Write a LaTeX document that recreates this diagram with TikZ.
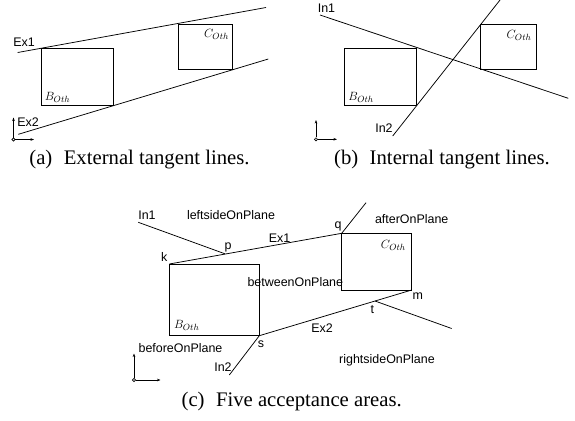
\documentclass[tikz,border=0pt]{standalone}
\usepackage{fontspec}
\setmainfont{Liberation Serif}
\setsansfont{Liberation Sans}
\usetikzlibrary{arrows.meta}
\begin{document}
\begin{tikzpicture}[x=1bp,y=-1bp,line width=0.75bp,
  lbl/.style={font=\sffamily\fontsize{12.5}{14}\selectfont,inner sep=0pt},
  mlbl/.style={font=\fontsize{13}{15}\selectfont,inner sep=0pt},
  captext/.style={font=\rmfamily\fontsize{20.8}{25}\selectfont,inner sep=0pt},
  axis/.style={line width=0.6bp,-{Stealth[length=3.5bp,width=2.6bp]}},
  orig/.style={circle,draw,line width=0.6bp,inner sep=0pt,minimum size=3.2bp}]
\useasboundingbox (0,0) rectangle (575,420);

% ---------------- (a) external tangent lines ----------------
\coordinate (aBnw) at (41.7,48.3);  \coordinate (aBse) at (113.3,105);
\coordinate (aCnw) at (178.3,24);   \coordinate (aCse) at (232.7,69);
\draw (aBnw) rectangle (aBse);
\draw (aCnw) rectangle (aCse);
\coordinate (aEx1s) at (17.7,52.5);  \coordinate (aEx1e) at (266,7.5);
\coordinate (aEx2s) at (18.3,134.3); \coordinate (aEx2e) at (268.3,59);
\draw (aEx1s) -- (aEx1e);
\draw (aEx2s) -- (aEx2e);
\node[lbl] (aEx1) at (24,42) {Ex1};
\node[lbl] (aEx2) at (28,121.7) {Ex2};
\node[mlbl] (aB) at (57.5,97.7) {$B_{Oth}$};
\node[mlbl] (aC) at (216.5,34) {$C_{Oth}$};
\node[orig] (ao) at (13.5,139.5) {};
\coordinate (aoy) at (13.5,117.5); \coordinate (aox) at (34,139.5);
\draw[axis] (ao) -- (aoy);
\draw[axis] (ao) -- (aox);
\node[captext] (capa) at (139.5,160) {(a)\hspace{0.55em}External tangent lines.};

% ---------------- (b) internal tangent lines ----------------
\coordinate (bBnw) at (344.3,48.3); \coordinate (bBse) at (416,105);
\coordinate (bCnw) at (480.7,24.3); \coordinate (bCse) at (536.7,69);
\draw (bBnw) rectangle (bBse);
\draw (bCnw) rectangle (bCse);
\coordinate (bIn1s) at (320,15);     \coordinate (bIn1e) at (568.3,98.3);
\coordinate (bIn2s) at (392.7,136);  \coordinate (bIn2e) at (500,0);
\draw (bIn1s) -- (bIn1e);
\draw (bIn2s) -- (bIn2e);
\node[lbl] (bIn1) at (326.5,8.5) {In1};
\node[lbl] (bIn2) at (384,128) {In2};
\node[mlbl] (bB) at (361,97) {$B_{Oth}$};
\node[mlbl] (bC) at (519,35) {$C_{Oth}$};
\node[orig] (bo) at (316,139.3) {};
\coordinate (boy) at (316,120); \coordinate (bax) at (337,139.3);
\draw[axis] (bo) -- (boy);
\draw[axis] (bo) -- (bax);
\node[captext] (capb) at (442,160) {(b)\hspace{0.55em}Internal tangent lines.};

% ---------------- (c) five acceptance areas ----------------
\coordinate (k) at (169.3,264);   \coordinate (cBse) at (259.3,335.7);
\coordinate (q) at (341.7,233.3); \coordinate (cCse) at (411.7,290);
\coordinate (s) at (259.3,335.7); \coordinate (m) at (411.7,290);
\coordinate (p) at (225,253.8);   \coordinate (t) at (375,301);
\draw (k) rectangle (cBse);
\draw (q) rectangle (cCse);
\coordinate (cIn1s) at (138.3,222.3);
\coordinate (cIn1e) at (451.7,328.5);
\coordinate (cIn2s) at (229.3,375);
\coordinate (cIn2e) at (366,202.7);
\draw (k) -- (q);
\draw (s) -- (m);
\draw (cIn1s) -- (p);
\draw (t) -- (cIn1e);
\draw (s) -- (cIn2s);
\draw (q) -- (cIn2e);
\node[lbl] (cIn1) at (147,215) {In1};
\node[lbl] (leftside) at (231,215) {leftsideOnPlane};
\node[lbl] (lp) at (228,247.5) {p};
\node[lbl] (cEx1) at (279.5,238) {Ex1};
\node[lbl] (lq) at (338,226.5) {q};
\node[lbl] (after) at (411.7,219) {afterOnPlane};
\node[lbl] (lk) at (164.3,257) {k};
\node[mlbl] (cC) at (393.3,245) {$C_{Oth}$};
\node[lbl] (between) at (295.3,281.7) {betweenOnPlane};
\node[lbl] (lm) at (417.7,296) {m};
\node[lbl] (lt) at (372.3,310) {t};
\node[mlbl] (cB) at (186.7,325.7) {$B_{Oth}$};
\node[lbl] (cEx2) at (322,327.7) {Ex2};
\node[lbl] (ls) at (261,344.5) {s};
\node[lbl] (before) at (180.5,348) {beforeOnPlane};
\node[lbl] (cIn2) at (223,367) {In2};
\node[lbl] (rightside) at (387,360) {rightsideOnPlane};
\node[orig] (co) at (134,380) {};
\coordinate (coy) at (134,353.5); \coordinate (cox) at (160.5,380);
\draw[axis] (co) -- (coy);
\draw[axis] (co) -- (cox);
\node[captext] (capc) at (291.7,402) {(c)\hspace{0.55em}Five acceptance areas.};
\end{tikzpicture}
\end{document}
